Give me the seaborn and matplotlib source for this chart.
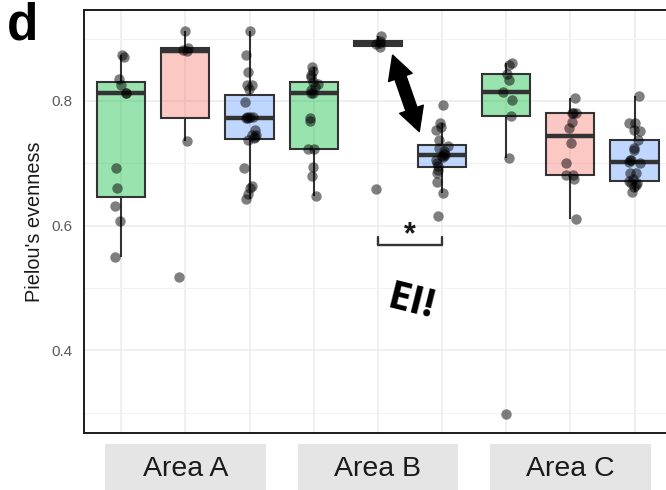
import numpy as np
import pandas as pd
import matplotlib
matplotlib.use("Agg")
import matplotlib.pyplot as plt
import matplotlib.transforms as mtransforms
from matplotlib.patches import Rectangle
import seaborn as sns

# Pielou's evenness per sample, three groups in each area
areas = ["Area A", "Area B", "Area C"]
levels = ["green", "pink", "blue"]
level_colors = ["#00BA38", "#F8766D", "#619CFF"]

area_a_green = [0.874, 0.870, 0.835, 0.826, 0.813, 0.813, 0.692, 0.660, 0.632, 0.607, 0.549]
area_a_pink = [0.912, 0.880, 0.882, 0.885, 0.736, 0.518]
area_a_blue = [0.912, 0.874, 0.847, 0.826, 0.826, 0.819, 0.799, 0.775, 0.775, 0.774, 0.773, 0.773,
               0.754, 0.746, 0.745, 0.743, 0.740, 0.738, 0.692, 0.663, 0.660, 0.651, 0.642]
area_b_green = [0.854, 0.848, 0.842, 0.838, 0.830, 0.827, 0.822, 0.818, 0.813, 0.813, 0.773,
                0.768, 0.723, 0.723, 0.694, 0.680, 0.648]
area_b_pink = [0.904, 0.897, 0.893, 0.891, 0.887, 0.659]
area_b_blue = [0.794, 0.765, 0.758, 0.753, 0.738, 0.727, 0.725, 0.720, 0.715, 0.714, 0.712, 0.710,
               0.705, 0.700, 0.695, 0.690, 0.684, 0.670, 0.652, 0.615]
area_c_green = [0.861, 0.858, 0.844, 0.833, 0.815, 0.801, 0.776, 0.708, 0.298]
area_c_pink = [0.804, 0.781, 0.781, 0.780, 0.766, 0.756, 0.732, 0.701, 0.681, 0.681, 0.674, 0.610]
area_c_blue = [0.808, 0.765, 0.764, 0.754, 0.752, 0.738, 0.724, 0.721, 0.705, 0.705, 0.702, 0.700,
               0.684, 0.684, 0.674, 0.672, 0.668, 0.668, 0.665, 0.662, 0.654]

y_ticks = [0.4, 0.6, 0.8]
y_minor = [0.3, 0.5, 0.7, 0.9]
bracket_y, bracket_tip = 0.5696, 0.581


def build_frame():
    series = {
        ("Area A", "green"): area_a_green, ("Area A", "pink"): area_a_pink,
        ("Area A", "blue"): area_a_blue, ("Area B", "green"): area_b_green,
        ("Area B", "pink"): area_b_pink, ("Area B", "blue"): area_b_blue,
        ("Area C", "green"): area_c_green, ("Area C", "pink"): area_c_pink,
        ("Area C", "blue"): area_c_blue,
    }
    rows = []
    for (area, level), vals in series.items():
        for v in vals:
            rows.append({"area": area, "level": level, "box": f"{area} {level}", "value": v})
    return pd.DataFrame(rows)


def plot_evenness():
    df = build_frame()
    order = [f"{a} {l}" for a in areas for l in levels]

    sns.set_style("white")
    plt.rcParams["font.family"] = ["Liberation Sans", "DejaVu Sans"]

    fig = plt.figure(figsize=(6.66, 4.90), dpi=100)
    ax = fig.add_axes([84 / 666, 57.5 / 490, 589 / 666, 422.5 / 490])

    sns.boxplot(data=df, x="box", y="value", hue="level", order=order,
                hue_order=levels, palette=level_colors, saturation=1,
                width=0.75, dodge=False, showcaps=False, showfliers=False,
                linecolor="#333333", linewidth=1.5,
                medianprops=dict(linewidth=3.2), legend=False, ax=ax)
    for p in ax.patches:
        fc = p.get_facecolor()
        p.set_facecolor((fc[0], fc[1], fc[2], 0.4))

    np.random.seed(3)
    sns.stripplot(data=df, x="box", y="value", order=order, color="black",
                  alpha=0.5, size=7.5, jitter=0.1, linewidth=0, ax=ax, zorder=4)

    ax.set_xlim(-0.58, 8.6)
    ax.set_ylim(0.268, 0.946)
    ax.set_yticks(y_ticks)
    ax.set_yticklabels([f"{t:.1f}" for t in y_ticks])
    ax.set_yticks(y_minor, minor=True)
    ax.set_xticks(range(len(order)))
    ax.set_xticklabels([])
    ax.set_xticks([2, 5, 8], minor=True)
    ax.set_axisbelow(True)
    ax.grid(which="major", color="#EBEBEB", linewidth=1.1)
    ax.grid(which="minor", axis="y", color="#F2F2F2", linewidth=0.8)
    ax.tick_params(axis="y", which="both", length=0, pad=8, labelsize=11,
                   labelcolor="#5A5A5A")
    ax.tick_params(axis="x", which="major", length=0)
    ax.tick_params(axis="x", which="minor", length=3, color="#D0D0D0", width=0.8)
    ax.set_xlabel("")
    ax.set_ylabel("Pielou's evenness", fontsize=14.3, color="#1A1A1A")
    ax.yaxis.set_label_coords(-0.068, 0.5)
    for s in ax.spines.values():
        s.set_color("#1A1A1A")
        s.set_linewidth(1.4)

    # strip labels below the panel
    trans = mtransforms.blended_transform_factory(ax.transData, fig.transFigure)
    for i, area in enumerate(areas):
        center = 3 * i + 1
        ax.add_patch(Rectangle((center - 1.25, -0.01), 2.5, 0.1045, transform=trans,
                               facecolor="#E5E5E5", linewidth=0, clip_on=False))
        ax.text(center, 21 / 490, area, transform=trans, ha="center", va="center",
                fontsize=20.5, color="#1A1A1A")

    # annotations
    top_tip, bottom_tip = (4.23, 0.8736), (4.645, 0.7509)
    mid = ((top_tip[0] + bottom_tip[0]) / 2, (top_tip[1] + bottom_tip[1]) / 2)
    style = "simple,head_length=0.85,head_width=0.9,tail_width=0.42"
    for tip in (top_tip, bottom_tip):
        ax.annotate("", xy=tip, xytext=mid,
                    arrowprops=dict(arrowstyle=style, mutation_scale=20,
                                    color="black", shrinkA=0, shrinkB=0))
    ax.plot([4, 4, 5, 5], [bracket_tip, bracket_y, bracket_y, bracket_tip],
            color="#333333", linewidth=1.7, zorder=5)
    ax.text(4.5, 0.585, "*", ha="center", va="center", fontsize=22,
            fontweight="bold", color="#1A1A1A")
    ax.text(4.52, 0.4768, "EI!", rotation=-14, rotation_mode="anchor",
            ha="center", va="center", fontsize=29, fontweight="bold",
            family=["Open Sans", "DejaVu Sans"], color="black")

    fig.text(7 / 666, 1 - 39 / 490, "d", fontsize=37, fontweight="bold",
             ha="left", va="baseline", color="black")

    fig.savefig("out.png", dpi=100)


if __name__ == "__main__":
    plot_evenness()
